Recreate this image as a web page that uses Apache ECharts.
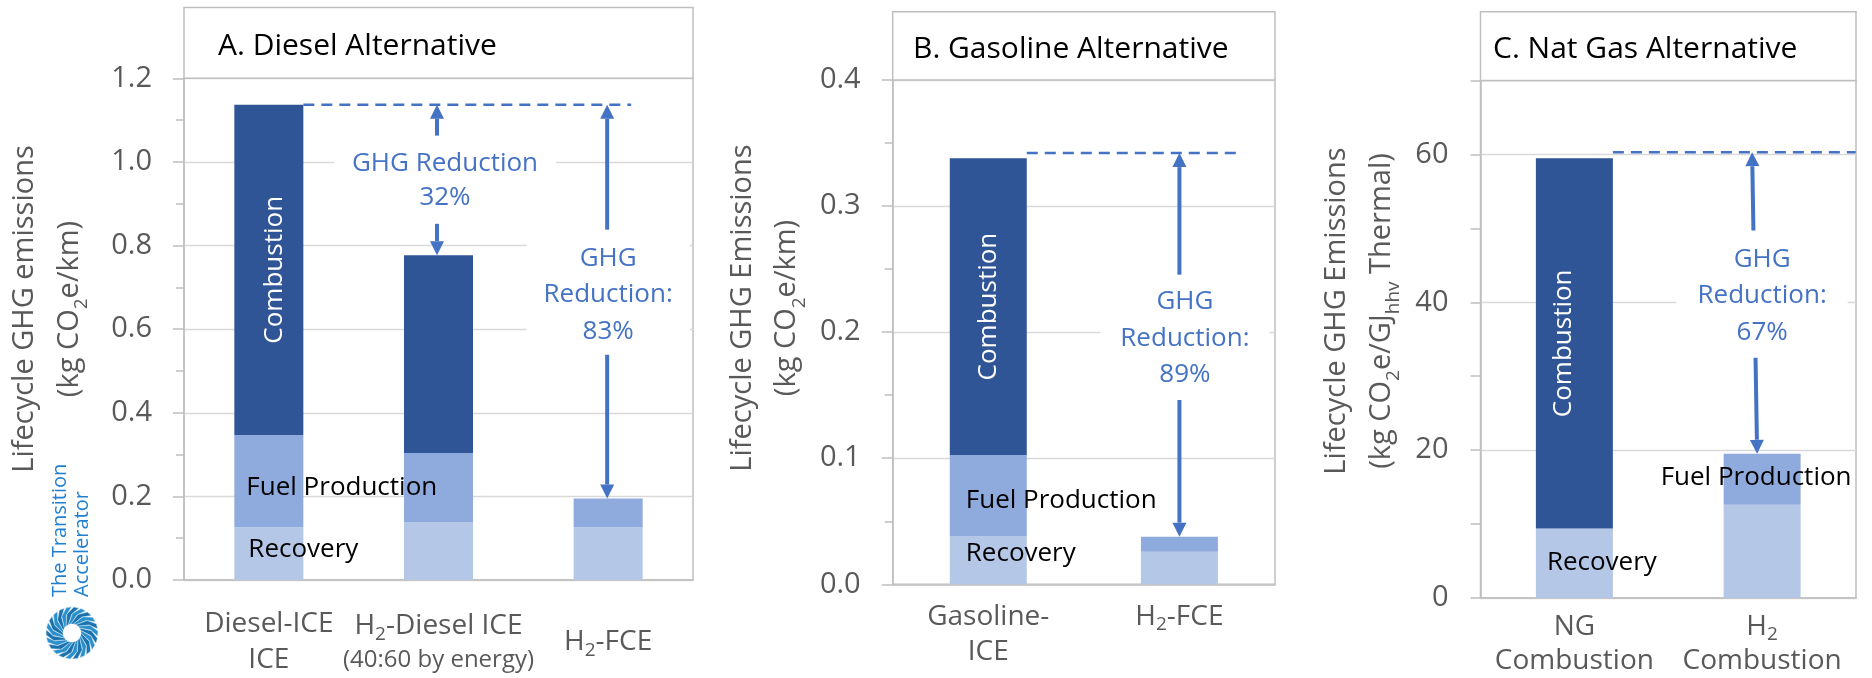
<!DOCTYPE html>
<html>
<head>
<meta charset="utf-8">
<title>Lifecycle GHG emissions</title>
<script src="https://cdn.jsdelivr.net/npm/echarts@6.0.0/dist/echarts.min.js"></script>
<style>
html, body { margin: 0; padding: 0; background: #ffffff; }
#chart { width: 1872px; height: 678px; }
</style>
</head>
<body>
<div id="chart"></div>
<script>
// ---------------- DATA ----------------
const stackNames = ['Recovery', 'Fuel Production', 'Combustion'];

const categoriesA = ['Diesel-ICE\nICE', 'H2-Diesel ICE\n(40:60 by energy)', 'H2-FCE'];
const recoveryA   = [0.126, 0.139, 0.126];
const fuelProdA   = [0.221, 0.165, 0.069];
const combustionA = [0.790, 0.473, 0];
const yScaleA     = [0, 1.2, 0.2];   // min, max, interval

const categoriesB = ['Gasoline-\nICE', 'H2-FCE'];
const recoveryB   = [0.0383, 0.0258];
const fuelProdB   = [0.0643, 0.0120];
const combustionB = [0.2354, 0];
const yScaleB     = [0, 0.4, 0.1];

const categoriesC = ['NG\nCombustion', 'H2\nCombustion'];
const recoveryC   = [9.4, 12.6];
const fuelProdC   = [0, 6.9];
const combustionC = [50.1, 0];
const yScaleC     = [0, 70, 10];

const panelTitles = ['A. Diesel Alternative', 'B. Gasoline Alternative', 'C. Nat Gas Alternative'];
const yAxisTitles = [
  'Lifecycle GHG emissions\n(kg CO{s|2}e/km)',
  'Lifecycle GHG Emissions\n(kg CO{s|2}e/km)',
  'Lifecycle GHG Emissions\n(kg CO{s|2}e/GJ{s|hhv} Thermal)'
];
const referenceLevels = [1.137, 0.342, 60.3];   // dashed baseline level per panel
const reductionLabels = ['GHG Reduction\n32%', 'GHG\nReduction:\n83%', 'GHG\nReduction:\n89%', 'GHG\nReduction:\n67%'];

// ---------------- STYLE / LAYOUT ----------------
const FONT = "'Open Sans', 'Noto Sans', 'DejaVu Sans', sans-serif";
const GRAY = '#595959', GRIDC = '#d9d9d9', FRAME = '#bfbfbf', BLUE = '#4472C4';
const BAR_COLORS = ['#B4C7E7', '#8FAADC', '#2F5597'];

const panels = [
  { cats: categoriesA, values: [recoveryA, fuelProdA, combustionA], ys: yScaleA, fmt: v => v.toFixed(1),
    grid: { left: 184, top: 78.3, width: 509, height: 506 }, boxTop: 7.5, barWidth: 69,
    titleX: 218, titleY: 46, yTitleX: 47, yTitleY: 309, xMargin: 62, xVAlign: 'middle', xLH: 36, dashEnd: 23 },
  { cats: categoriesB, values: [recoveryB, fuelProdB, combustionB], ys: yScaleB, fmt: v => v.toFixed(1),
    grid: { left: 892.7, top: 80, width: 382.3, height: 504.3 }, boxTop: 11.7, barWidth: 77,
    titleX: 913, titleY: 49, yTitleX: 764.5, yTitleY: 308, xMargin: 15, xVAlign: 'top', xLH: 35, dashEnd: 62 },
  { cats: categoriesC, values: [recoveryC, fuelProdC, combustionC], ys: yScaleC,
    fmt: v => (v % 20 === 0 && v < 70) ? String(v) : '',
    grid: { left: 1480.5, top: 80.5, width: 375.5, height: 517.8 }, boxTop: 11.7, barWidth: 77,
    titleX: 1493, titleY: 49.7, yTitleX: 1359, yTitleY: 311, xMargin: 12, xVAlign: 'top', xLH: 34, dashEnd: 93.5 }
];

// segment label placement (panel, stack index, category index)
const segmentLabels = [
  { p: 0, s: 0, c: 0, position: [14, '42%'] },
  { p: 0, s: 1, c: 0, position: [12, '57%'] },
  { p: 0, s: 2, c: 0, rotate: true, offset: [0, 6] },
  { p: 1, s: 0, c: 0, position: [16, '37%'] },
  { p: 1, s: 1, c: 0, position: [16, '56%'] },
  { p: 1, s: 2, c: 0, rotate: true, offset: [0, 0] },
  { p: 2, s: 0, c: 0, position: [11, '49%'] },
  { p: 2, s: 1, c: 1, position: [-63, '47%'] },
  { p: 2, s: 2, c: 0, rotate: true, offset: [0, -11] }
];

// arrows: upper part rises from upperStop to reference; lower part falls from lowerStart to bar top
const arrowSpecs = [
  { p: 0, c: 1, dxTop: -1.5, dxBot: -1.5, upperStop: 1.063, lowerStart: 0.852 },
  { p: 0, c: 2, dxTop: -1, dxBot: -1, upperStop: 0.838, lowerStart: 0.539 },
  { p: 1, c: 1, dxTop: 0, dxBot: 0, upperStop: 0.2456, lowerStart: 0.1462 },
  { p: 2, c: 1, dxTop: -10, dxBot: -5, upperStop: 49.7, lowerStart: 32.5 }
];
const reductionTextSpecs = [
  { p: 0, c: 1, dx: 6.5, val: 0.956, lh: 34, pad: 18 },
  { p: 0, c: 2, dx: 0, val: 0.6825, lh: 36.5, pad: 17 },
  { p: 1, c: 1, dx: 5.5, val: 0.195, lh: 36.5, pad: 20 },
  { p: 2, c: 1, dx: 0, val: 40.9, lh: 36.5, pad: 21 }
];

// ---------------- OPTION ----------------
function catFormatter(v) {
  return v.split('\n').map(line => {
    if (line.charAt(0) === '(') return '{sm|' + line + '}';
    return line.replace('H2', 'H{s|2}');
  }).join('\n');
}

const grids = [], xAxes = [], yAxes = [], series = [];
panels.forEach((pn, p) => {
  grids.push(Object.assign({ show: true, borderColor: FRAME, borderWidth: 1.5, backgroundColor: 'transparent', containLabel: false }, pn.grid));
  xAxes.push({
    type: 'category', gridIndex: p, data: pn.cats,
    axisLine: { show: true, lineStyle: { color: FRAME, width: 1.5 } },
    axisTick: { show: false },
    splitLine: { show: false },
    axisLabel: {
      interval: 0, margin: pn.xMargin, verticalAlign: pn.xVAlign,
      fontFamily: FONT, fontSize: 28, lineHeight: pn.xLH, color: GRAY,
      formatter: catFormatter,
      rich: {
        s: { fontFamily: FONT, fontSize: 19, lineHeight: 24, verticalAlign: 'bottom', color: GRAY },
        sm: { fontFamily: FONT, fontSize: 24, lineHeight: 32, color: GRAY }
      }
    }
  });
  const isC = p === 2;
  yAxes.push({
    type: 'value', gridIndex: p, min: pn.ys[0], max: pn.ys[1], interval: pn.ys[2],
    axisLine: { show: true, lineStyle: { color: FRAME, width: 1.5 } },
    axisTick: { show: true, length: isC ? 10 : 11, lineStyle: { color: FRAME, width: 1.5 } },
    minorTick: { show: !isC, splitNumber: 2, length: 8, lineStyle: { color: FRAME, width: 1.5 } },
    splitLine: { show: !isC, lineStyle: { color: GRIDC, width: 1.3 } },
    axisLabel: { margin: 32, fontFamily: FONT, fontSize: 29, color: GRAY, formatter: pn.fmt }
  });
  stackNames.forEach((name, s) => {
    const data = pn.values[s].map((v, c) => {
      const spec = segmentLabels.find(l => l.p === p && l.s === s && l.c === c);
      if (!spec) return v;
      const label = spec.rotate
        ? { show: true, position: 'inside', rotate: 90, offset: spec.offset, color: '#ffffff',
            fontFamily: FONT, fontSize: 26, formatter: '{a}' }
        : { show: true, position: spec.position, align: 'left', verticalAlign: 'middle',
            color: '#000000', fontFamily: FONT, fontSize: 26, formatter: '{a}' };
      return { value: v, label: label };
    });
    series.push({
      type: 'bar', name: name, stack: 'panel' + p, xAxisIndex: p, yAxisIndex: p,
      barWidth: pn.barWidth, data: data, itemStyle: { color: BAR_COLORS[s] },
      label: { show: false }, emphasis: { disabled: true }, z: 2
    });
  });
});
// extra axis for panel C gridlines at 20-unit steps
yAxes.push({
  type: 'value', gridIndex: 2, min: 0, max: 70, interval: 20,
  axisLine: { show: false }, axisTick: { show: false }, axisLabel: { show: false },
  splitLine: { show: true, lineStyle: { color: GRIDC, width: 1.3 } }
});

const chart = echarts.init(document.getElementById('chart'), null, { renderer: 'canvas' });
chart.setOption({
  animation: false,
  backgroundColor: '#ffffff',
  textStyle: { fontFamily: FONT },
  grid: grids, xAxis: xAxes, yAxis: yAxes, series: series
});

// ---------------- ANNOTATIONS ----------------
function P(p, c, v) { return chart.convertToPixel({ xAxisIndex: p, yAxisIndex: p }, [c, v]); }
function total(p, c) { return panels[p].values.reduce((a, arr) => a + arr[c], 0); }

function arrow(x1, y1, x2, y2) {
  const dx = x2 - x1, dy = y2 - y1, L = Math.hypot(dx, dy), ux = dx / L, uy = dy / L;
  const hl = 14, hw = 7;
  const bx = x2 - ux * hl, by = y2 - uy * hl;
  return [
    { type: 'line', z: 100, shape: { x1: x1, y1: y1, x2: bx, y2: by }, style: { stroke: BLUE, lineWidth: 4 } },
    { type: 'polygon', z: 100, shape: { points: [[x2, y2], [bx - uy * hw, by + ux * hw], [bx + uy * hw, by - ux * hw]] }, style: { fill: BLUE } }
  ];
}

const g = [];
panels.forEach((pn, p) => {
  const gr = pn.grid;
  g.push({ type: 'rect', z: 50, shape: { x: gr.left, y: pn.boxTop, width: gr.width, height: gr.top - pn.boxTop },
           style: { fill: '#ffffff', stroke: FRAME, lineWidth: 1.5 } });
  g.push({ type: 'text', z: 51, x: pn.titleX, y: pn.titleY,
           style: { text: panelTitles[p], fontFamily: FONT, fontSize: 30, fill: '#000000', align: 'left', verticalAlign: 'middle' } });
  g.push({ type: 'text', z: 51, x: pn.yTitleX, y: pn.yTitleY, rotation: Math.PI / 2,
           style: { text: yAxisTitles[p], fontFamily: FONT, fontSize: 29, lineHeight: 44.5, fill: GRAY,
                    align: 'center', verticalAlign: 'middle',
                    rich: { s: { fontFamily: FONT, fontSize: 19, lineHeight: 30, verticalAlign: 'bottom', fill: GRAY } } } });
  // dashed reference line
  const last = pn.cats.length - 1;
  const start = P(p, 0, referenceLevels[p]);
  const end = P(p, last, referenceLevels[p]);
  g.push({ type: 'line', z: 60, shape: { x1: start[0] + pn.barWidth / 2, y1: start[1], x2: end[0] + pn.dashEnd, y2: end[1] },
           style: { stroke: BLUE, lineWidth: 2.5, lineDash: [11, 7] } });
});

arrowSpecs.forEach(a => {
  const top = P(a.p, a.c, referenceLevels[a.p]);
  const bot = P(a.p, a.c, total(a.p, a.c));
  const xTop = top[0] + a.dxTop, xBot = bot[0] + a.dxBot;
  const xAt = y => xTop + (xBot - xTop) * (y - top[1]) / (bot[1] - top[1]);
  const yU = P(a.p, a.c, a.upperStop)[1];
  const yL = P(a.p, a.c, a.lowerStart)[1];
  g.push(...arrow(xAt(yU), yU, xTop, top[1]));
  g.push(...arrow(xAt(yL), yL, xBot, bot[1]));
});

reductionTextSpecs.forEach((t, i) => {
  const pt = P(t.p, t.c, t.val);
  g.push({ type: 'text', z: 70, x: pt[0] + t.dx, y: pt[1],
           style: { text: reductionLabels[i], fontFamily: FONT, fontSize: 26, lineHeight: t.lh, fill: BLUE,
                    align: 'center', verticalAlign: 'middle', backgroundColor: '#ffffff', padding: [0, t.pad] } });
});

// logo: The Transition Accelerator
g.push({ type: 'text', z: 80, x: 71, y: 597, rotation: Math.PI / 2,
         style: { text: 'The Transition\nAccelerator', fontFamily: FONT, fontSize: 20, lineHeight: 22,
                  fill: '#1f7fd0', align: 'left', verticalAlign: 'middle' } });
const logoBlades = [];
const NB = 22, cx = 72, cy = 633, r0 = 9, r1 = 26;
for (let i = 0; i < NB; i++) {
  const a = i * 2 * Math.PI / NB;
  const pt = (r, ang) => [cx + r * Math.cos(ang), cy + r * Math.sin(ang)];
  logoBlades.push({ type: 'polygon', z: 80,
    shape: { points: [pt(r0, a), pt(r1 * 0.75, a + 0.45), pt(r1, a + 0.78), pt(r1, a + 0.98), pt(r1 * 0.72, a + 0.7), pt(r0, a + 0.3)] },
    style: { fill: i % 2 ? '#2a90cc' : '#1c72ad', stroke: '#cfe6f5', lineWidth: 0.5 } });
}
g.push(...logoBlades);
g.push({ type: 'circle', z: 81, shape: { cx: cx, cy: cy, r: r0 }, style: { fill: '#ffffff' } });

chart.setOption({ graphic: g });
</script>
</body>
</html>
